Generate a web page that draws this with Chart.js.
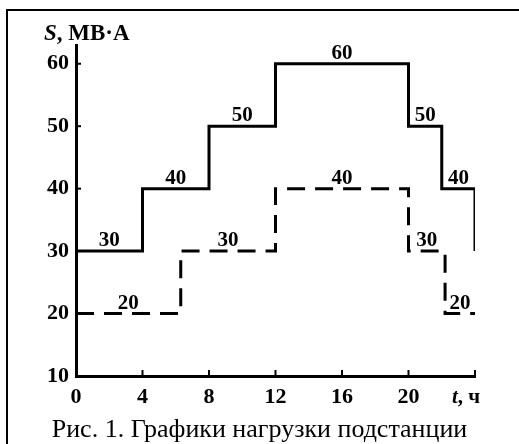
<!DOCTYPE html>
<html>
<head>
<meta charset="utf-8">
<script src="https://cdn.jsdelivr.net/npm/chart.js@4/dist/chart.umd.min.js"></script>
<style>
  html, body { margin: 0; padding: 0; background: #fff; }
  #wrap { position: relative; width: 519px; height: 444px; overflow: hidden; }
  #frame { position: absolute; left: 6px; top: 9px; width: 520px; height: 440px;
           border-left: 2px solid #000; border-top: 2px solid #000; }
  #chart { position: absolute; left: 0; top: 0; }
  #caption { position: absolute; left: 0; width: 519px; top: 416px; line-height: 26px; text-align: center;
             font-family: "Liberation Serif", "Times New Roman", serif; font-size: 26px; color: #000; }
</style>
</head>
<body>
<div id="wrap">
  <div id="frame"></div>
  <canvas id="chart" width="519" height="444"></canvas>
  <div id="caption">Рис. 1. Графики нагрузки подстанции</div>
</div>
<script>
// step breakpoints (hours) and load values (MVA)
const solidTimes = [0, 4, 8, 12, 20, 22, 24];
const solidLoads = [30, 40, 50, 60, 50, 40, 30];
const dashTimes = [0, 6.3, 12, 20, 22.2, 24];
const dashLoads = [20, 30, 40, 30, 20, 20];
const xTicks = [0, 4, 8, 12, 16, 20, 24];
const yTicks = [10, 20, 30, 40, 50, 60];

const serif = '"Liberation Serif", "Times New Roman", serif';

const toPoints = (ts, vs) => ts.map((t, i) => ({ x: t, y: vs[i] }));

// inward tick marks, segment value labels and axis titles
const decor = {
    id: 'decor',
    afterDraw(chart) {
        const c = chart.ctx;
        const xs = chart.scales.x, ys = chart.scales.y;
        const area = chart.chartArea;
        c.save();
        c.strokeStyle = '#000';
        c.lineWidth = 2;
        yTicks.forEach(v => {
            const py = ys.getPixelForValue(v);
            c.beginPath(); c.moveTo(area.left, py); c.lineTo(area.left + 5, py); c.stroke();
        });
        xTicks.forEach(v => {
            const px = xs.getPixelForValue(v);
            c.beginPath(); c.moveTo(px, area.bottom); c.lineTo(px, area.bottom - 6); c.stroke();
        });

        // labels above each step segment
        c.fillStyle = '#000';
        c.font = 'bold 21px ' + serif;
        c.textAlign = 'center';
        c.textBaseline = 'alphabetic';
        [[solidTimes, solidLoads], [dashTimes, dashLoads]].forEach(([ts, vs]) => {
            for (let i = 0; i < ts.length - 1; i++) {
                const mid = (ts[i] + ts[i + 1]) / 2;
                c.fillText(String(vs[i]), xs.getPixelForValue(mid), ys.getPixelForValue(vs[i]) - 5);
            }
        });

        // axis titles
        c.textAlign = 'left';
        c.font = 'italic bold 23px ' + serif;
        c.fillText('S', 44, 40);
        let w = c.measureText('S').width;
        c.font = 'bold 23px ' + serif;
        c.fillText(', МВ·А', 44 + w, 40);

        c.font = 'italic bold 21px ' + serif;
        c.fillText('t', 452, 403);
        w = c.measureText('t').width;
        c.font = 'bold 21px ' + serif;
        c.fillText(', ч', 452 + w, 403);
        c.restore();
    }
};

new Chart(document.getElementById('chart'), {
    type: 'line',
    data: {
        datasets: [{
            data: toPoints(solidTimes, solidLoads),
            borderColor: '#000',
            borderWidth: 3,
            stepped: 'before',
            pointRadius: 0,
            fill: false
        }, {
            data: toPoints(dashTimes, dashLoads),
            borderColor: '#000',
            borderWidth: 3,
            borderDash: [18, 10],
            stepped: 'before',
            pointRadius: 0,
            fill: false
        }]
    },
    options: {
        responsive: false,
        animation: false,
        layout: { padding: { left: 40, right: 44, top: 45, bottom: 38 } },
        plugins: { legend: { display: false }, tooltip: { enabled: false } },
        scales: {
            x: {
                type: 'linear',
                min: 0,
                max: 24,
                afterBuildTicks: s => { s.ticks = xTicks.map(v => ({ value: v })); },
                afterFit: s => { s.height = 30; },
                grid: { display: true, drawOnChartArea: false, drawTicks: false },
                border: { display: true, color: '#000', width: 3 },
                ticks: {
                    padding: 8,
                    color: '#000',
                    font: { family: serif, size: 22, weight: 'bold' },
                    callback: v => (v === 24 ? '' : v)
                }
            },
            y: {
                type: 'linear',
                min: 10,
                max: 63,
                afterBuildTicks: s => { s.ticks = yTicks.map(v => ({ value: v })); },
                afterFit: s => { s.width = 36; },
                grid: { display: true, drawOnChartArea: false, drawTicks: false },
                border: { display: true, color: '#000', width: 3 },
                ticks: {
                    padding: 7,
                    color: '#000',
                    font: { family: serif, size: 22, weight: 'bold' }
                }
            }
        }
    },
    plugins: [decor]
});
</script>
</body>
</html>
